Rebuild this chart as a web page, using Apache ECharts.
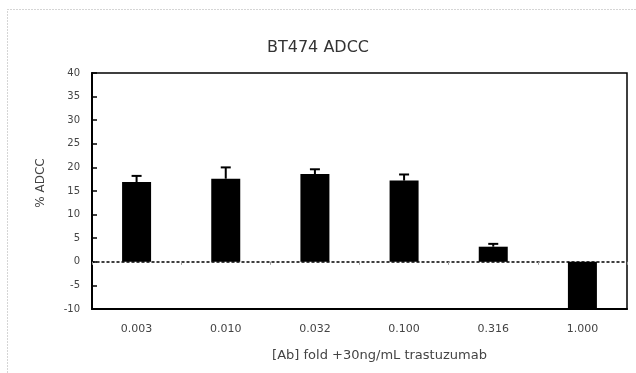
<!DOCTYPE html>
<html>
<head>
<meta charset="utf-8">
<script src="https://cdn.jsdelivr.net/npm/echarts@6/dist/echarts.min.js"></script>
<style>
  html, body { margin: 0; padding: 0; background: #fff; }
  #chart { width: 636px; height: 373px; }
</style>
</head>
<body>
<div id="chart"></div>
<script>
// Antibody concentrations (fold) tested with 30 ng/mL trastuzumab
const doses = ['0.003', '0.010', '0.032', '0.100', '0.316', '1.000'];
// Mean % ADCC per dose
const adcc = [16.9, 17.6, 18.6, 17.2, 3.2, -10];
// Upper error (SD) per dose
const errUp = [1.3, 2.4, 1.0, 1.3, 0.6, 0];
// Y axis tick values
const yTicks = [-10, -5, 0, 5, 10, 15, 20, 25, 30, 35, 40];

const FONT = 'DejaVu Sans';
const chart = echarts.init(document.getElementById('chart'), null, { renderer: 'canvas' });

const errData = doses.map((d, i) => [i, adcc[i], adcc[i] + errUp[i]]);

chart.setOption({
  animation: false,
  backgroundColor: '#fff',
  title: {
    text: 'BT474 ADCC',
    left: 'center',
    top: 35,
    textStyle: { fontFamily: FONT, fontSize: 16, fontWeight: 'normal', color: '#333' }
  },
  graphic: [{
    type: 'rect',
    shape: { x: 7.5, y: 9.5, width: 640, height: 380 },
    style: { fill: 'none', stroke: '#aaa', lineWidth: 1, lineDash: [1, 2] },
    silent: true
  }],
  grid: {
    left: 92, top: 73, right: 9, bottom: 64,
    show: true, borderColor: '#000', borderWidth: 1.5, backgroundColor: 'transparent'
  },
  xAxis: [{
    type: 'category',
    data: doses,
    position: 'bottom',
    axisLine: { onZero: false, show: true, lineStyle: { color: '#000', width: 2 } },
    axisTick: { show: false },
    axisLabel: { fontFamily: FONT, fontSize: 11, color: '#444', margin: 15 },
    name: '[Ab] fold +30ng/mL trastuzumab',
    nameLocation: 'middle',
    nameGap: 40,
    nameTextStyle: { fontFamily: FONT, fontSize: 13, color: '#444', padding: [0, 0, 0, 40] }
  }, {
    // zero reference line with small boundary ticks
    type: 'category',
    data: doses,
    position: 'bottom',
    axisLine: { onZero: true, show: true, lineStyle: { color: '#000', width: 1.5, type: [2, 3] } },
    axisTick: { show: true, length: 3, lineStyle: { color: '#999' } },
    axisLabel: { show: false }
  }],
  yAxis: {
    type: 'value',
    min: -10, max: 40, interval: 5,
    axisLine: { show: true, lineStyle: { color: '#000', width: 2 } },
    axisTick: { show: true, inside: true, length: 5, lineStyle: { color: '#000', width: 1.5 } },
    splitLine: { show: false },
    axisLabel: {
      fontFamily: FONT, fontSize: 10, color: '#444', margin: 12,
      formatter: v => (yTicks.includes(v) ? String(v) : '')
    },
    name: '% ADCC',
    nameLocation: 'middle',
    nameGap: 45,
    nameTextStyle: { fontFamily: FONT, fontSize: 12, color: '#444', padding: [0, 0, 0, 16] }
  },
  series: [{
    type: 'bar',
    data: adcc,
    barWidth: 29,
    itemStyle: { color: '#000' },
    z: 2
  }, {
    type: 'custom',
    data: errData,
    z: 3,
    renderItem: (params, api) => {
      if (api.value(2) === api.value(1)) return null;
      const base = api.coord([api.value(0), api.value(1)]);
      const top = api.coord([api.value(0), api.value(2)]);
      const cap = 5;
      const st = { stroke: '#000', lineWidth: 2 };
      return {
        type: 'group',
        children: [
          { type: 'line', shape: { x1: top[0], y1: base[1], x2: top[0], y2: top[1] }, style: st },
          { type: 'line', shape: { x1: top[0] - cap, y1: top[1], x2: top[0] + cap, y2: top[1] }, style: st }
        ]
      };
    }
  }]
});
</script>
</body>
</html>
